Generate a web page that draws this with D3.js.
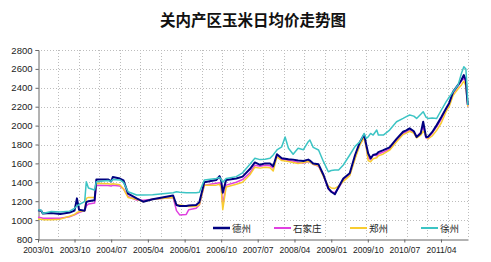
<!DOCTYPE html>
<html><head><meta charset="utf-8">
<script src="https://cdn.jsdelivr.net/npm/d3@7"></script>
<style>body{margin:0;background:#fff}svg{display:block}</style>
</head><body><svg id="c" width="491" height="262"></svg>
<script>
const title = "关内产区玉米日均价走势图";
const seriesNames = ["德州","石家庄","郑州","徐州"];
const dates = ["2003-01-01","2003-01-25","2003-02-06","2003-04-10","2003-06-16","2003-08-25","2003-10-01","2003-10-19","2003-11-04","2003-12-16","2003-12-28","2004-01-13","2004-02-28","2004-03-12","2004-06-07","2004-07-01","2004-07-13","2004-09-04","2004-10-01","2004-11-04","2005-01-07","2005-02-25","2005-05-07","2005-10-07","2005-11-01","2005-11-25","2006-01-13","2006-02-01","2006-03-28","2006-04-21","2006-05-28","2006-08-25","2006-09-19","2006-10-01","2006-10-13","2006-11-07","2007-01-22","2007-03-10","2007-05-04",
"2007-06-10","2007-07-19","2007-08-25","2007-10-01","2007-10-25","2007-11-22","2007-12-28","2008-01-22","2008-02-16","2008-03-22","2008-04-28","2008-06-07","2008-07-13","2008-07-25","2008-08-19","2008-09-28","2008-11-04","2008-12-10","2009-01-01","2009-01-28","2009-02-25","2009-04-01","2009-05-19","2009-06-28","2009-08-04","2009-09-04","2009-09-19","2009-10-04","2009-10-22","2009-11-10","2009-12-07","2009-12-19","2010-01-25","2010-03-13","2010-05-04","2010-06-22","2010-07-16","2010-08-10","2010-09-10","2010-10-01","2010-11-01","2010-11-19","2010-12-10","2010-12-25","2011-01-25","2011-02-28","2011-04-04","2011-05-10","2011-06-01","2011-07-01","2011-08-07","2011-09-01","2011-09-19","2011-10-04","2011-10-13","2011-10-19"];
const dezhou = [1105,1100,1070,1075,1065,1080,1100,1230,1110,1100,1190,1200,1210,1430,1430,1410,1455,1440,1420,1280,1230,1195,1220,1260,1160,1150,1150,1155,1160,1190,1400,1424,1465,1420,1290,1424,1440,1460,1540,
1610,1585,1600,1600,1570,1696,1654,1650,1645,1640,1630,1625,1640,1630,1600,1590,1477,1336,1300,1273,1350,1440,1495,1689,1830,1905,1800,1705,1654,1689,1700,1720,1740,1770,1860,1935,1950,1971,1940,1880,1920,2041,1880,1880,1930,2005,2090,2183,2236,2359,2430,2483,2535,2480,2300,2218];
const shijiazhuang = [1030,1025,1020,1020,1020,1035,1055,1070,1080,1100,1150,1170,1180,1370,1365,1360,1370,1360,1330,1250,1213,1210,1220,1240,1100,1055,1060,1110,1125,1160,1370,1389,1395,1360,1160,1370,1400,1430,1500,
1580,1570,1580,1575,1550,1690,1640,1640,1630,1625,1610,1605,1620,1615,1590,1570,1470,1330,1300,1290,1340,1420,1480,1660,1810,1880,1780,1660,1640,1690,1680,1700,1720,1750,1840,1920,1930,1950,1930,1880,1930,1990,1870,1860,1920,1990,2070,2170,2220,2340,2420,2470,2510,2450,2280,2200];
const zhengzhou = [1010,1010,1005,1005,1010,1040,1060,1080,1090,1100,1230,1240,1240,1390,1385,1380,1385,1375,1330,1240,1220,1195,1220,1240,1160,1160,1150,1145,1145,1160,1370,1370,1380,1340,1110,1350,1380,1400,1480,
1560,1550,1560,1555,1520,1670,1630,1625,1620,1610,1600,1610,1620,1615,1590,1575,1460,1360,1340,1335,1360,1410,1470,1650,1800,1870,1770,1630,1618,1650,1660,1680,1700,1740,1830,1905,1920,1940,1920,1870,1900,1940,1900,1860,1890,1950,2030,2150,2200,2320,2390,2430,2470,2420,2280,2200];
const xuzhou = [1110,1105,1070,1090,1085,1095,1125,1150,1165,1195,1406,1340,1318,1406,1420,1410,1430,1425,1400,1300,1265,1265,1268,1290,1300,1295,1290,1290,1290,1295,1424,1440,1450,1430,1400,1440,1460,1500,1590,
1654,1640,1645,1654,1690,1742,1775,1880,1760,1696,1760,1745,1830,1847,1770,1742,1618,1512,1525,1530,1530,1583,1689,1780,1830,1917,1865,1880,1917,1900,1953,1900,1900,1953,2041,2076,2095,2112,2100,2076,2120,2147,2090,2076,2080,2076,2165,2253,2300,2359,2430,2553,2623,2600,2400,2218];
const xTickLabels = ["2003/01","2003/10","2004/07","2005/04","2006/01","2006/10","2007/07","2008/04","2009/01","2009/10","2010/07","2011/04"];
const yTicks = [800,1000,1200,1400,1600,1800,2000,2200,2400,2600,2800];
const colors = ["#000080","#e040e0","#f8cc30","#3cc4c4"];

const svg = d3.select("#c");
const L = 38, R = 468, T = 50, B = 239;
const parse = d3.timeParse("%Y-%m-%d");
const parseTick = d3.timeParse("%Y/%m");
const x = d3.scaleTime().domain([parse("2003-01-01"), parse("2011-10-20")]).range([L, R]);
const y = d3.scaleLinear().domain([800, 2800]).range([B, T]);

svg.append("rect").attr("width",491).attr("height",262).attr("fill","#fff");

// gridlines
const g = svg.append("g");
g.selectAll(".hg").data(yTicks.slice(1)).join("line")
  .attr("x1",L).attr("x2",R).attr("y1",d=>Math.round(y(d))+0.5).attr("y2",d=>Math.round(y(d))+0.5)
  .attr("stroke","#bdbdbd").attr("stroke-width",1).attr("stroke-dasharray","1,2");
const nV = 21;
g.selectAll(".vg").data(d3.range(1,nV+1)).join("line")
  .attr("x1",d=>Math.round(L+(R-L)*d/nV)+0.5).attr("x2",d=>Math.round(L+(R-L)*d/nV)+0.5)
  .attr("y1",T).attr("y2",B)
  .attr("stroke","#bdbdbd").attr("stroke-width",1).attr("stroke-dasharray","1,2");

// axes
const yAxis = d3.axisLeft(y).tickValues(yTicks).tickFormat(d3.format("d")).tickSize(3).tickPadding(3);
const ya = svg.append("g").attr("transform",`translate(${L+0.5},0)`).call(yAxis);
ya.select(".domain").attr("stroke","#666");
ya.selectAll(".tick line").attr("stroke","#666");
ya.selectAll("text").attr("font-family","Liberation Sans, Arial, sans-serif").attr("font-size","9.5px").attr("fill","#222");

const xAxis = d3.axisBottom(x).tickValues(xTickLabels.map(parseTick)).tickFormat(d3.timeFormat("%Y/%m")).tickSize(3).tickPadding(4).tickSizeOuter(0);
const xa = svg.append("g").attr("transform",`translate(0,${B+0.5})`).call(xAxis);
xa.select(".domain").attr("stroke","#666");
xa.selectAll(".tick line").attr("stroke","#666");
xa.selectAll("text").attr("font-family","Liberation Sans, Arial, sans-serif").attr("font-size","8.5px").attr("fill","#222");

// lines
const all = [dezhou, shijiazhuang, zhengzhou, xuzhou];
const line = d3.line().x((d,i)=>x(parse(dates[i]))).y(d=>y(d));
const order = [1,2,0,3];
svg.append("g").selectAll("path").data(order).join("path")
  .attr("d",k=>line(all[k])).attr("fill","none").attr("stroke",k=>colors[k])
  .attr("stroke-width",k=>k===0?2:1.5).attr("stroke-linejoin","round");

// legend
const legX = [213, 274, 350, 421];
const lg = svg.append("g");
seriesNames.forEach((n,i)=>{
  lg.append("line").attr("x1",legX[i]).attr("x2",legX[i]+17).attr("y1",228).attr("y2",228)
    .attr("stroke",colors[i]).attr("stroke-width",i===0?2.5:2);
  lg.append("text").attr("x",legX[i]+19).attr("y",231.5).text(n)
    .attr("font-family","Noto Sans CJK SC, sans-serif").attr("font-size","9.5px").attr("fill","#222");
});

// title
svg.append("text").attr("x",253).attr("y",26).attr("text-anchor","middle").text(title)
  .attr("font-family","Noto Sans CJK SC, sans-serif").attr("font-weight","bold").attr("font-size","15.5px").attr("fill","#111");
</script></body></html>
